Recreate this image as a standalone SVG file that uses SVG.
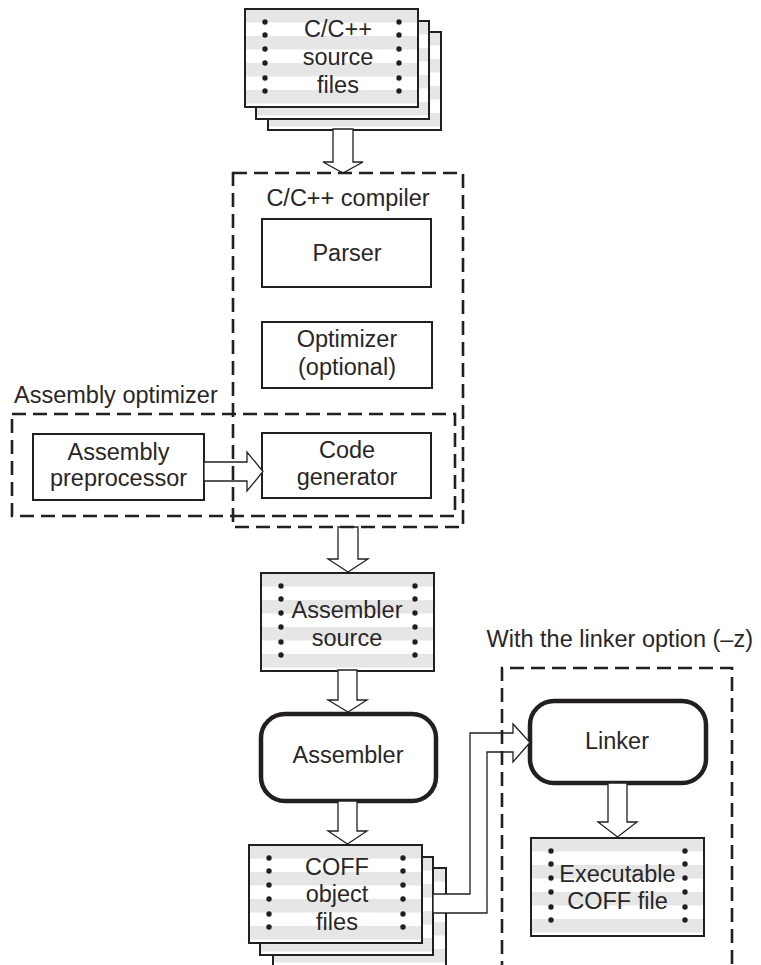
<svg xmlns="http://www.w3.org/2000/svg" width="761" height="965" viewBox="0 0 761 965">
<defs>
<pattern id="stripes" patternUnits="userSpaceOnUse" width="200" height="27">
<rect x="0" y="0" width="200" height="27" fill="#ffffff"/>
<rect x="0" y="0" width="200" height="13.5" fill="#e6e6e7"/>
</pattern>
<g id="doc">
<rect x="0" y="0" width="173" height="98" fill="url(#stripes)" stroke="#231f20" stroke-width="2"/>
</g>
<g id="dots">
<circle cx="20" cy="13" r="2.7"/><circle cx="20" cy="26" r="2.7"/><circle cx="20" cy="40" r="2.7"/>
<circle cx="20" cy="54" r="2.7"/><circle cx="20" cy="69" r="2.7"/><circle cx="20" cy="82" r="2.7"/>
<circle cx="154" cy="13" r="2.7"/><circle cx="154" cy="26" r="2.7"/><circle cx="154" cy="40" r="2.7"/>
<circle cx="154" cy="54" r="2.7"/><circle cx="154" cy="69" r="2.7"/><circle cx="154" cy="82" r="2.7"/>
</g>
</defs>
<style>
text { font-family: "Liberation Sans", Arial, sans-serif; font-size: 23.5px; fill: #2a2627; }
.c { text-anchor: middle; }
.box { fill: #ffffff; stroke: #231f20; stroke-width: 2; }
.rbox { fill: #ffffff; stroke: #231f20; stroke-width: 4.5; }
.dash { fill: none; stroke: #231f20; stroke-width: 2.6; stroke-dasharray: 14 7; }
.arrow { fill: #ffffff; stroke: #231f20; stroke-width: 1.3; stroke-linejoin: miter; }
#dots circle { fill: #231f20; }
</style>

<g id="source-files">
<use href="#doc" transform="translate(268,32)"/>
<use href="#doc" transform="translate(256,21)"/>
<use href="#doc" transform="translate(245,9)"/>
<use href="#dots" transform="translate(245,9)" fill="#231f20"/>
<text class="c" x="338" y="37">C/C++</text>
<text class="c" x="338" y="65">source</text>
<text class="c" x="338" y="93">files</text>
</g>

<g id="parser">
<rect class="box" x="262" y="219" width="169" height="68"/>
<text class="c" x="347" y="261">Parser</text>
</g>

<g id="optimizer">
<rect class="box" x="262" y="322" width="170" height="66"/>
<text class="c" x="347" y="347">Optimizer</text>
<text class="c" x="347" y="375">(optional)</text>
</g>

<g id="preprocessor">
<rect class="box" x="33" y="434" width="171" height="66"/>
<text class="c" x="118.5" y="460">Assembly</text>
<text class="c" x="118.5" y="486">preprocessor</text>
</g>

<g id="code-generator">
<rect class="box" x="262" y="433" width="169" height="65"/>
<text class="c" x="347" y="458">Code</text>
<text class="c" x="347" y="485">generator</text>
</g>

<g id="assembler-source">
<use href="#doc" transform="translate(261,573)"/>
<use href="#dots" transform="translate(261,573)" fill="#231f20"/>
<text class="c" x="347" y="618">Assembler</text>
<text class="c" x="347" y="646">source</text>
</g>

<g id="assembler">
<rect class="rbox" x="261" y="714" width="175" height="87" rx="24" ry="24"/>
<text class="c" x="348" y="763">Assembler</text>
</g>

<g id="coff-object-files">
<use href="#doc" transform="translate(273,868)"/>
<use href="#doc" transform="translate(260,857)"/>
<use href="#doc" transform="translate(249,845)"/>
<use href="#dots" transform="translate(249,845)" fill="#231f20"/>
<text class="c" x="337" y="875">COFF</text>
<text class="c" x="337" y="902">object</text>
<text class="c" x="337" y="930">files</text>
</g>

<g id="linker">
<rect class="rbox" x="530" y="701" width="176" height="82" rx="24" ry="24"/>
<text class="c" x="617" y="749">Linker</text>
</g>

<g id="executable">
<use href="#doc" transform="translate(531,838)"/>
<use href="#dots" transform="translate(531,838)" fill="#231f20"/>
<text class="c" x="617.5" y="882">Executable</text>
<text class="c" x="617.5" y="909">COFF file</text>
</g>

<g id="connectors">
<path class="arrow" d="M333,129 V162 H323 L343,173 L363,162 H353 V129 Z"/>
<path class="arrow" d="M204,462 H247 V452 L263,471.5 L247,491 V481 H204 Z"/>
<path class="arrow" d="M338,527 V559 H328 L348,572 L368,559 H358 V527 Z"/>
<path class="arrow" d="M338,670 V700 H328 L348,712 L367,700 H357 V670 Z"/>
<path class="arrow" d="M338,801 V831 H328 L347.5,844 L367,831 H357 V801 Z"/>
<path class="arrow" d="M608,783 V822 H598 L617.5,837 L637,822 H627 V783 Z"/>
<path class="arrow" d="M433,894 H470 V733 H513 V724 L530,742.5 L513,762 V752 H487 V913 H433 Z"/>
</g>

<g id="compiler">
<rect class="dash" x="233" y="173" width="230" height="354"/>
<text class="c" x="348" y="206">C/C++ compiler</text>
</g>

<g id="assembly-optimizer">
<rect class="dash" x="12" y="414" width="443" height="102"/>
<text x="14" y="403">Assembly optimizer</text>
</g>

<g id="linker-option">
<path class="dash" d="M502,975 V668 H732 V975"/>
<text x="753" y="647" style="text-anchor:end">With the linker option (–z)</text>
</g>
</svg>
